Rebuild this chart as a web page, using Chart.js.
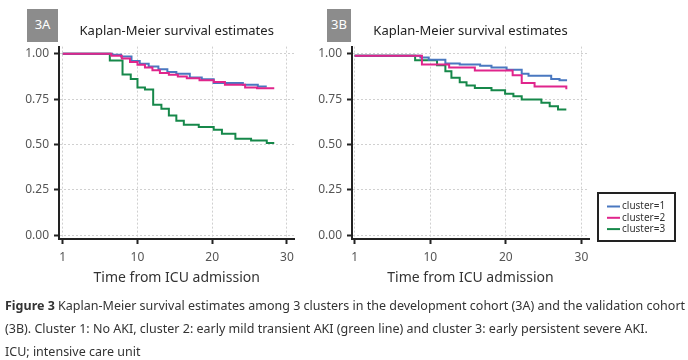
<!DOCTYPE html>
<html>
<head>
<meta charset="utf-8">
<script src="https://cdn.jsdelivr.net/npm/chart.js@4.4.0/dist/chart.umd.min.js"></script>
<style>
  body { margin: 0; width: 688px; height: 360px; background: #fff; position: relative; overflow: hidden; font-family: "Noto Sans", sans-serif; }
  canvas { position: absolute; top: 0; }
  #chartA { left: 0; }
  #chartB { left: 300px; }
  .tag { position: absolute; top: 9px; height: 33px; line-height: 31px; background: #8c8c8c; color: #fff; font-size: 13px; text-align: center; }
  #tagA { left: 27px; width: 31px; }
  #tagB { left: 327px; width: 24px; }
  #caption { position: absolute; left: 5px; top: 294px; font-size: 13px; line-height: 23px; color: #333; white-space: nowrap; transform-origin: 0 0; }
  #caption b { font-weight: bold; }
</style>
</head>
<body>
<canvas id="chartA" width="300" height="295"></canvas>
<canvas id="chartB" width="388" height="295"></canvas>
<div class="tag" id="tagA">3A</div>
<div class="tag" id="tagB">3B</div>
<div id="caption">
  <div id="capLine1"><b>Figure 3</b> Kaplan-Meier survival estimates among 3 clusters in the development cohort (3A) and the validation cohort</div>
  <div>(3B). Cluster 1: No AKI, cluster 2: early mild transient AKI (green line) and cluster 3: early persistent severe AKI.</div>
  <div>ICU; intensive care unit</div>
</div>
<script>
// axis ticks (the tick at 0 is labelled "1" in the figure)
const xTickValues = [0, 10, 20, 30];
const xTickLabels = ['1', '10', '20', '30'];
const yTickValues = [0, 0.25, 0.5, 0.75, 1];
const clusterLabels = ['cluster=1', 'cluster=2', 'cluster=3'];

// 3A development cohort
const devTime1 = [0, 6.6, 7.8, 9.2, 10.3, 11.5, 12.8, 14.0, 15.2, 17.0, 18.6, 20.2, 24.1, 26.1, 27.3];
const devSurv1 = [1, 0.995, 0.985, 0.96, 0.945, 0.93, 0.915, 0.9, 0.89, 0.87, 0.86, 0.84, 0.83, 0.82, 0.82];
const devTime2 = [0, 6.5, 7.9, 9.0, 10.0, 11.0, 12.0, 13.0, 14.2, 15.4, 16.6, 18.3, 20.2, 21.7, 24.4, 26.0, 28.3];
const devSurv2 = [1, 0.99, 0.975, 0.955, 0.94, 0.925, 0.91, 0.895, 0.885, 0.875, 0.865, 0.855, 0.845, 0.83, 0.815, 0.81, 0.81];
const devTime3 = [0, 6.3, 8.0, 9.1, 10.0, 11.0, 12.1, 13.2, 14.2, 15.2, 16.2, 18.2, 20.2, 21.3, 23.1, 25.2, 27.3, 28.3];
const devSurv3 = [1, 0.963, 0.886, 0.862, 0.815, 0.803, 0.72, 0.698, 0.66, 0.632, 0.61, 0.597, 0.582, 0.56, 0.533, 0.523, 0.509, 0.509];

// 3B validation cohort
const valTime1 = [0, 8.7, 9.8, 12.0, 13.9, 16.6, 18.1, 20.1, 22.1, 23.0, 26.0, 27.1, 28.1];
const valSurv1 = [0.99, 0.98, 0.967, 0.947, 0.941, 0.935, 0.925, 0.913, 0.891, 0.88, 0.862, 0.855, 0.855];
const valTime2 = [0, 8.9, 12.5, 15.9, 20.9, 22.1, 23.8, 28.0];
const valSurv2 = [0.99, 0.942, 0.925, 0.908, 0.882, 0.84, 0.82, 0.805];
const valTime3 = [0, 8.0, 10.9, 12.0, 12.8, 13.9, 14.8, 15.9, 18.1, 19.9, 21.0, 22.1, 24.7, 25.8, 26.9, 28.0];
const valSurv3 = [0.99, 0.965, 0.937, 0.904, 0.868, 0.844, 0.825, 0.812, 0.8, 0.78, 0.767, 0.748, 0.73, 0.711, 0.693, 0.693];

const colors = ['#4a78c0', '#e0258c', '#16884a'];

function toPoints(times, surv) {
    return times.map((t, i) => ({ x: t, y: surv[i] }));
}

function makeDatasets(series) {
    return series.map((s, i) => ({
        label: clusterLabels[i],
        data: toPoints(s[0], s[1]),
        borderColor: colors[i],
        backgroundColor: colors[i],
        borderWidth: 2,
        pointRadius: 0,
        stepped: 'before',
        fill: false,
        order: i === 1 ? 0 : i + 1
    }));
}

const axisGrid = { color: '#d0d0d0', lineWidth: 1, tickColor: '#222', tickWidth: 2, tickLength: 5, tickBorderDash: [] };
const axisBorder = { color: '#222', width: 2, dash: [2, 2] };

// legend with a box, drawn right of the plot in 3B
const boxLegend = {
    id: 'boxLegend',
    afterDraw(chart, args, opts) {
        if (!opts.show) return;
        const ctx = chart.ctx;
        const x0 = chart.chartArea.right + 9, y0 = 193, w = 77, h = 48;
        ctx.save();
        ctx.strokeStyle = '#222';
        ctx.lineWidth = 2;
        ctx.strokeRect(x0, y0, w, h);
        ctx.font = '10px "Noto Sans"';
        ctx.textBaseline = 'middle';
        chart.data.datasets.forEach((ds, i) => {
            const y = y0 + 13.5 + i * 11.3;
            ctx.strokeStyle = ds.borderColor;
            ctx.beginPath();
            ctx.moveTo(x0 + 9, y);
            ctx.lineTo(x0 + 22, y);
            ctx.stroke();
            ctx.fillStyle = '#333';
            ctx.fillText(ds.label, x0 + 24, y);
        });
        ctx.restore();
    }
};

function makePanel(id, series, yWidth, xMin, padRight, showLegend) {
    return new Chart(document.getElementById(id), {
        type: 'line',
        data: { datasets: makeDatasets(series) },
        options: {
            responsive: false,
            animation: false,
            devicePixelRatio: 1,
            layout: { padding: { left: 0, right: padRight, top: 0, bottom: 0 } },
            plugins: {
                legend: { display: false },
                tooltip: { enabled: false },
                title: {
                    display: true,
                    text: 'Kaplan-Meier survival estimates',
                    fullSize: false,
                    color: '#222',
                    font: { family: 'Noto Sans', size: 13, weight: 'normal' },
                    padding: { top: 23, bottom: 8 }
                },
                boxLegend: { show: showLegend }
            },
            scales: {
                x: {
                    type: 'linear',
                    min: xMin,
                    max: 31,
                    afterBuildTicks: s => { s.ticks = xTickValues.map(v => ({ value: v })); },
                    afterFit: s => { s.height = 56; },
                    ticks: {
                        callback: (v, i) => xTickLabels[i],
                        color: '#555',
                        font: { family: 'Noto Sans', size: 12 },
                        padding: 6,
                        maxRotation: 0,
                        autoSkip: false
                    },
                    grid: axisGrid,
                    border: axisBorder,
                    title: {
                        display: true,
                        text: 'Time from ICU admission',
                        color: '#333',
                        font: { family: 'Noto Sans', size: 14 },
                        padding: { top: 0, bottom: 9 }
                    }
                },
                y: {
                    min: -0.02,
                    max: 1.04,
                    afterBuildTicks: s => { s.ticks = yTickValues.map(v => ({ value: v })); },
                    afterFit: s => { s.width = yWidth; },
                    ticks: {
                        callback: v => v.toFixed(2),
                        color: '#555',
                        font: { family: 'Noto Sans', size: 12 },
                        padding: 5
                    },
                    grid: axisGrid,
                    border: axisBorder
                }
            }
        },
        plugins: [boxLegend]
    });
}

makePanel('chartA', [[devTime1, devSurv1], [devTime2, devSurv2], [devTime3, devSurv3]], 59, -0.5, 3, false);
makePanel('chartB', [[valTime1, valSurv1], [valTime2, valSurv2], [valTime3, valSurv3]], 52, -0.35, 99, true);

// squeeze the caption so the first line spans the page like the original
const cap = document.getElementById('caption');
const line1 = document.getElementById('capLine1');
const k = 680 / line1.scrollWidth;
cap.style.transform = 'scaleX(' + k + ')';
</script>
</body>
</html>
